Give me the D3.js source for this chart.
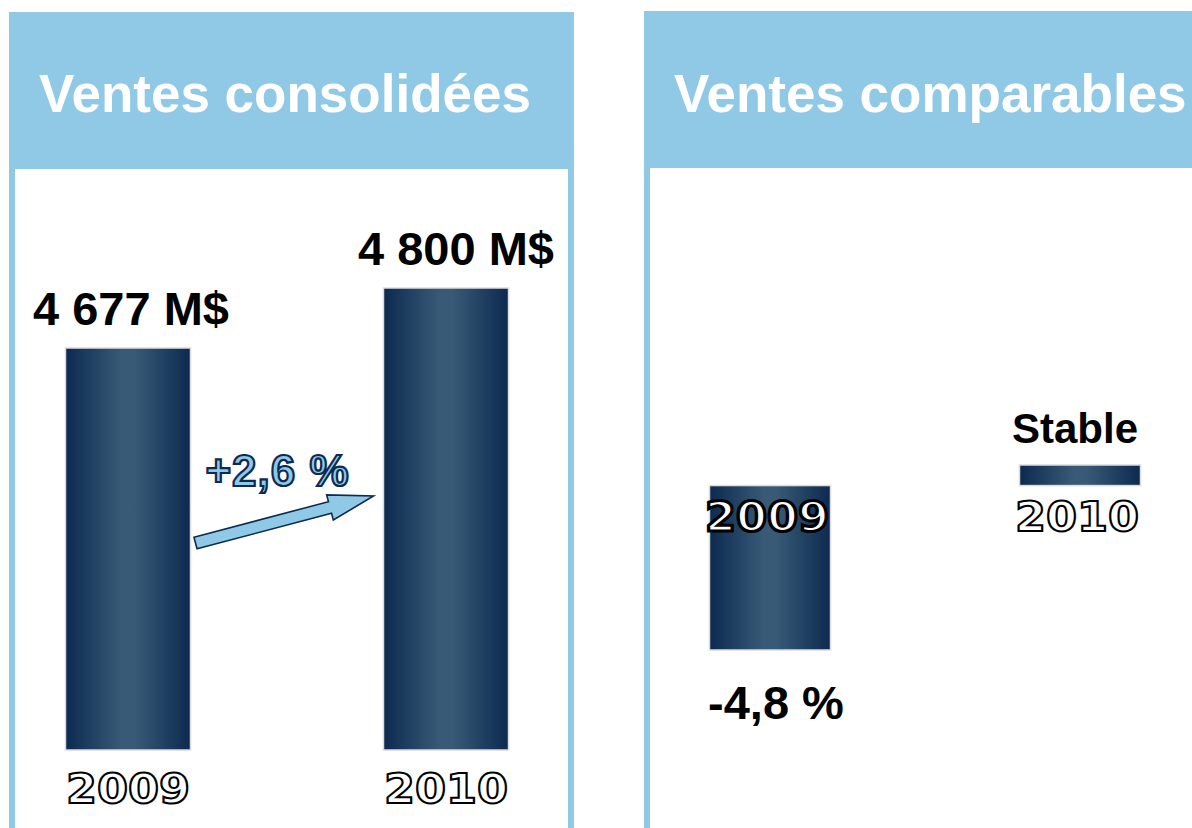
<!DOCTYPE html>
<html>
<head>
<meta charset="utf-8">
<script src="https://cdn.jsdelivr.net/npm/d3@7"></script>
<style>
  body { margin: 0; background: #fff; }
  text { font-family: "Liberation Sans", Arial, sans-serif; font-weight: bold; }
  .year { font-family: "DejaVu Sans", sans-serif; font-weight: bold; fill: #fff; stroke: #000; stroke-width: 2px; }
</style>
</head>
<body>
<div id="chart"></div>
<script>
// data
const consTitle = "Ventes consolidées";
const consYears = ["2009", "2010"];
const consValues = [4677, 4800];
const consLabels = ["4 677 M$", "4 800 M$"];
const consGrowth = "+2,6 %";

const compTitle = "Ventes comparables";
const compYears = ["2009", "2010"];
const compValues = [-4.8, 0.6];
const compLabels = ["-4,8 %", "Stable"];

const blue = "#90c9e5";
const navy = "#0d2b52";

const svg = d3.select("#chart")
  .append("svg")
  .attr("width", 1192)
  .attr("height", 828);

// horizontal gradient for the bars
const grad = svg.append("defs").append("linearGradient")
  .attr("id", "barGrad")
  .attr("x1", "0%").attr("x2", "100%").attr("y1", "0%").attr("y2", "0%");
grad.append("stop").attr("offset", "0%").attr("stop-color", "#0c2a50");
grad.append("stop").attr("offset", "45%").attr("stop-color", "#385a76");
grad.append("stop").attr("offset", "55%").attr("stop-color", "#385a76");
grad.append("stop").attr("offset", "100%").attr("stop-color", "#0c2a50");

// panel frame: blue header + side borders, white inside
function panel(x, y, w, headerH, title) {
  svg.append("rect")
    .attr("x", x).attr("y", y)
    .attr("width", w).attr("height", 840 - y)
    .attr("fill", blue);
  svg.append("rect")
    .attr("x", x + 6).attr("y", y + headerH)
    .attr("width", w - 12).attr("height", 840 - y - headerH)
    .attr("fill", "#fff");
  svg.append("text")
    .attr("x", x + 30)
    .attr("y", 112)
    .attr("fill", "#fff")
    .style("font-size", "53px")
    .text(title);
}

panel(9, 12, 565, 157, consTitle);
panel(644, 11, 600, 157, compTitle);

// outlined year label, stretched like the wide outline font of the original
function yearLabel(g, data, xf, yf) {
  g.selectAll("text.year")
    .data(data)
    .enter().append("text")
    .attr("class", "year")
    .attr("x", d => xf(d) - 62)
    .attr("y", yf)
    .attr("textLength", 124)
    .attr("lengthAdjust", "spacingAndGlyphs")
    .style("font-size", "41px")
    .style("stroke-width", d => d.value < 0 ? "3px" : "2px")
    .text(d => d.year);
}

// ---- left panel: consolidated sales ----
const xCons = d3.scalePoint().domain(consYears).range([128, 446]);
const yCons = d3.scaleLinear().domain([3853, 4800]).range([750, 288]);
const barW = 125;

const consData = consYears.map((yr, i) => ({ year: yr, value: consValues[i], label: consLabels[i] }));

const left = svg.append("g");
left.selectAll("rect.bar")
  .data(consData)
  .enter().append("rect")
  .attr("class", "bar")
  .attr("x", d => xCons(d.year) - barW / 2)
  .attr("y", d => yCons(d.value))
  .attr("width", barW)
  .attr("height", d => yCons.range()[0] - yCons(d.value))
  .attr("fill", "url(#barGrad)")
  .attr("stroke", "#dcdcdc")
  .attr("stroke-width", 1.5);

left.selectAll("text.val")
  .data(consData)
  .enter().append("text")
  .attr("class", "val")
  .attr("x", (d, i) => xCons(d.year) + (i === 0 ? 3 : 10))
  .attr("y", d => yCons(d.value) - 23)
  .attr("text-anchor", "middle")
  .style("font-size", "47px")
  .attr("fill", "#000")
  .text(d => d.label);

yearLabel(left, consData, d => xCons(d.year), yCons.range()[0] + 53);

// growth arrow between the two bars
const x0 = xCons(consYears[0]) + barW / 2 + 5;
const x1 = xCons(consYears[1]) - barW / 2 - 10;
const ay0 = 543, ay1 = 496;
const len = Math.hypot(x1 - x0, ay1 - ay0);
const ang = Math.atan2(ay1 - ay0, x1 - x0) * 180 / Math.PI;
const sw = 6, hw = 13, hl = 45;
const arrowPts = [[0, -sw], [len - hl, -sw], [len - hl, -hw], [len, 0],
                  [len - hl, hw], [len - hl, sw], [0, sw]];
left.append("path")
  .attr("d", d3.line()(arrowPts) + "Z")
  .attr("transform", "translate(" + x0 + "," + ay0 + ") rotate(" + ang + ")")
  .attr("fill", blue)
  .attr("stroke", navy)
  .attr("stroke-width", 1.6)
  .attr("stroke-linejoin", "miter");

left.append("text")
  .attr("x", (x0 + x1) / 2 - 7)
  .attr("y", 486)
  .attr("text-anchor", "middle")
  .style("font-size", "44px")
  .style("letter-spacing", "1px")
  .attr("fill", blue)
  .attr("stroke", navy)
  .attr("stroke-width", 2.2)
  .text(consGrowth);

// ---- right panel: comparable sales ----
const xComp = d3.scalePoint().domain(compYears).range([770, 1080]);
const yComp = d3.scaleLinear().domain([-4.8, 0.6]).range([650, 465]);
const barW2 = 121;

const compData = compYears.map((yr, i) => ({ year: yr, value: compValues[i], label: compLabels[i] }));

const right = svg.append("g");
right.selectAll("rect.bar")
  .data(compData)
  .enter().append("rect")
  .attr("class", "bar")
  .attr("x", d => xComp(d.year) - barW2 / 2)
  .attr("y", d => yComp(Math.max(0, d.value)))
  .attr("width", barW2)
  .attr("height", d => Math.abs(yComp(d.value) - yComp(0)))
  .attr("fill", "url(#barGrad)")
  .attr("stroke", "#dcdcdc")
  .attr("stroke-width", 1.5);

yearLabel(right, compData, d => xComp(d.year) - 3, yComp(0) + 45);

right.selectAll("text.val")
  .data(compData)
  .enter().append("text")
  .attr("class", "val")
  .attr("x", d => xComp(d.year) + (d.value < 0 ? 6 : -5))
  .attr("y", d => d.value < 0 ? yComp(d.value) + 69 : yComp(d.value) - 22)
  .attr("text-anchor", "middle")
  .style("font-size", d => d.value < 0 ? "47px" : "42px")
  .attr("fill", "#000")
  .text(d => d.label);
</script>
</body>
</html>
